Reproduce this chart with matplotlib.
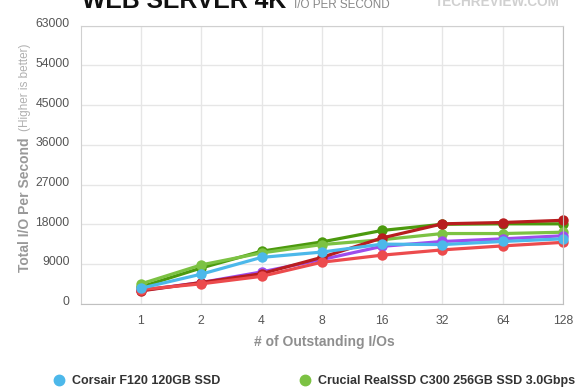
import matplotlib
matplotlib.use('Agg')
from matplotlib import pyplot as plt
from matplotlib.lines import Line2D
import matplotlib.transforms as mtransforms

plt.rcParams['font.family'] = ['Liberation Sans', 'DejaVu Sans']

# data (IOPS)
queue_depths = ['1', '2', '4', '8', '16', '32', '64', '128']
corsair_f120 = [3500, 6700, 10500, 11700, 13500, 13400, 14100, 14700]
crucial_c300_3g = [4500, 8800, 11500, 13400, 14500, 15900, 15900, 16200]
series_dkgreen = [3800, 8100, 11900, 14000, 16600, 18000, 18100, 18100]
series_purple = [3000, 4800, 7200, 10000, 13000, 14100, 14700, 15400]
series_dkred = [2900, 4800, 6800, 10500, 14900, 18100, 18400, 18900]
series_red = [3200, 4500, 6200, 9400, 11000, 12200, 13100, 13900]
y_ticks = [0, 9000, 18000, 27000, 36000, 45000, 54000, 63000]

W, H = 580, 390
fig = plt.figure(figsize=(W / 100, H / 100), dpi=100)
ax = fig.add_axes([80.7 / W, (H - 303.7) / H, (563 - 80.7) / W, (303.7 - 25.7) / H])

xs = list(range(1, len(queue_depths) + 1))
lines = [
    (series_dkgreen, '#4c9a0e', '_nolegend_'),
    (crucial_c300_3g, '#7cc243', 'Crucial RealSSD C300 256GB SSD 3.0Gbps'),
    (series_purple, '#9d4ded', '_nolegend_'),
    (series_dkred, '#b81d1f', '_nolegend_'),
    (series_red, '#ec4b4d', '_nolegend_'),
    (corsair_f120, '#4cb8ea', 'Corsair F120 120GB SSD'),
]
for vals, col, lab in lines:
    ax.plot(xs, vals, color=col, lw=2.3, marker='o', markersize=7.5,
            markeredgewidth=0, label=lab, solid_capstyle='round', clip_on=False)

ax.set_xlim(0, 8)
ax.set_ylim(0, 63000)
ax.set_xticks(xs)
ax.set_xticklabels(queue_depths)
ax.set_yticks(y_ticks)
ax.set_yticklabels([str(v) for v in y_ticks])
ax.grid(True, color='#e6e6e6', lw=1)
ax.set_axisbelow(True)
ax.tick_params(length=0, labelsize=8.8, labelcolor='#555555')
ax.tick_params(axis='x', pad=8)
ax.tick_params(axis='y', pad=8)
for s in ax.spines.values():
    s.set_color('#d0d0d0')
ax.spines['bottom'].set_color('#c0c0c0')
ax.spines['right'].set_color('#c0c0c0')

off = mtransforms.ScaledTranslation(0, 0.03, fig.dpi_scale_trans)
for lbl in ax.get_yticklabels():
    lbl.set_transform(lbl.get_transform() + off)

# axis titles
fig.text(324 / W, (H - 342) / H, '# of Outstanding I/Os', ha='center', va='center',
         fontsize=10, fontweight='bold', color='#8e8e8e')
fig.text(25 / W, (H - 272) / H, 'Total I/O Per Second', rotation=90, rotation_mode='anchor',
         ha='left', va='center', fontsize=10, fontweight='bold', color='#999999')
fig.text(25 / W, (H - 131) / H, '(Higher is better)', rotation=90, rotation_mode='anchor',
         ha='left', va='center', fontsize=8.5, color='#b0b0b0')

# header (cut off at top, as in the source image)
fig.text(82 / W, (H - 7.5) / H, 'WEB SERVER 4K', ha='left', va='baseline',
         fontsize=17.8, fontweight='bold', color='#111111')
fig.text(294 / W, (H - 7.5) / H, 'I/O PER SECOND', ha='left', va='baseline',
         fontsize=8.4, color='#888888')
fig.text(435 / W, (H - 6) / H, 'TECHREVIEW.COM', ha='left', va='baseline',
         fontsize=9.8, fontweight='bold', color='#d0d0d0')

handles = [Line2D([], [], marker='o', ls='none', color='#4cb8ea', markersize=7.5),
           Line2D([], [], marker='o', ls='none', color='#7cc243', markersize=7.5)]
fig.legend(handles, ['Corsair F120 120GB SSD', 'Crucial RealSSD C300 256GB SSD 3.0Gbps'],
           loc='center left', bbox_to_anchor=(52.75 / W, (H - 381) / H), ncol=2,
           frameon=False, borderpad=0, borderaxespad=0, handlelength=1,
           handletextpad=0.54, columnspacing=6.3,
           prop={'size': 9, 'weight': 'bold'}, labelcolor='#333333')

fig.savefig('out.png', dpi=100, facecolor='white')
